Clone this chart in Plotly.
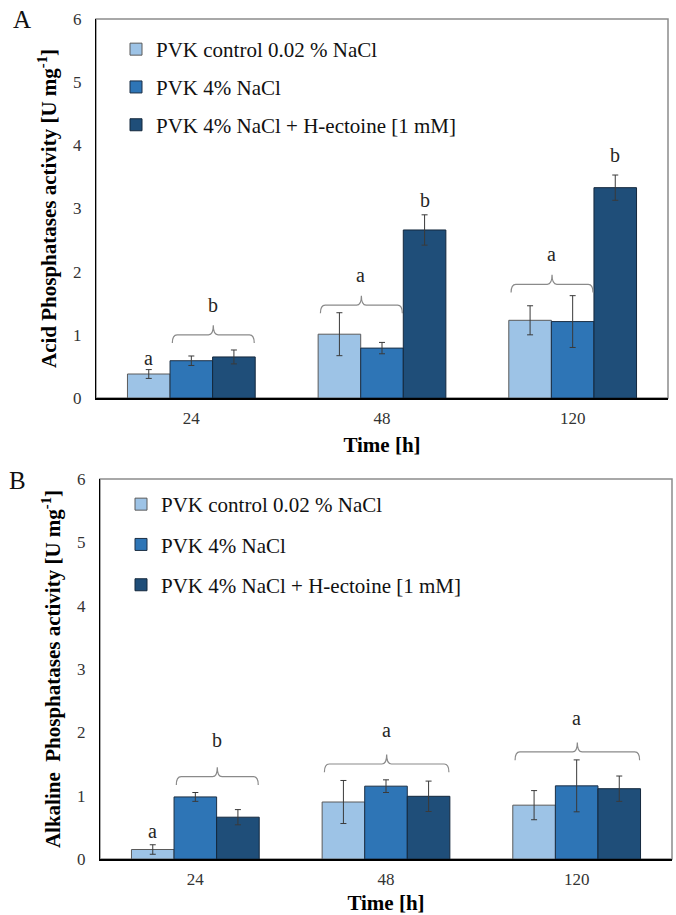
import plotly.graph_objects as go

times = ["24", "48", "120"]
series = ["PVK control 0.02 % NaCl", "PVK 4% NaCl", "PVK 4% NaCl + H-ectoine [1 mM]"]
colors = ["#9DC3E6", "#2E75B6", "#1F4E79"]
outlines = ["#5a5a5a", "#1c2f45", "#14283d"]

# Panel A: acid phosphatases
acid_vals = [[0.38, 1.01, 1.23], [0.59, 0.79, 1.21], [0.65, 2.66, 3.33]]
acid_err = [[0.07, 0.34, 0.23], [0.075, 0.09, 0.41], [0.11, 0.24, 0.20]]
# Panel B: alkaline phosphatases
alk_vals = [[0.15, 0.90, 0.85], [0.98, 1.15, 1.155], [0.66, 0.99, 1.11]]
alk_err = [[0.075, 0.34, 0.23], [0.07, 0.10, 0.41], [0.12, 0.24, 0.20]]

# Significance letters: (group index, series index or None for brace center, letter, y)
acid_letters = [(0, 0, "a", 0.63), (0, None, "b", 1.47), (1, None, "a", 1.95),
                (1, 2, "b", 3.13), (2, None, "a", 2.28), (2, 2, "b", 3.85)]
alk_letters = [(0, 0, "a", 0.45), (0, None, "b", 1.88), (1, None, "a", 2.03),
               (2, None, "a", 2.23)]
# Braces: (group, first series, last series, line level)
acid_braces = [(0, 1, 2, 1.0), (1, 0, 1, 1.47), (2, 0, 1, 1.80)]
alk_braces = [(0, 1, 2, 1.30), (1, 0, 2, 1.50), (2, 0, 2, 1.69)]

BARGAP = 0.33
BW = (1 - BARGAP) / 3
FONT = "Liberation Serif"

fig = go.Figure()

panels = [
    dict(vals=acid_vals, err=acid_err, xa="x", ya="y", legend="legend",
         letters=acid_letters, braces=acid_braces),
    dict(vals=alk_vals, err=alk_err, xa="x2", ya="y2", legend="legend2",
         letters=alk_letters, braces=alk_braces),
]

for p in panels:
    for i in range(3):
        fig.add_trace(go.Bar(
            x=[0, 1, 2], y=p["vals"][i], name=series[i],
            marker=dict(color=colors[i], line=dict(color=outlines[i], width=1)),
            error_y=dict(type="data", array=p["err"][i], color="#3a3a3a",
                         thickness=1, width=3),
            xaxis=p["xa"], yaxis=p["ya"], legend=p["legend"],
            legendgroup=f"{p['legend']}{i}",
        ))


def bar_center(g, s):
    return g + (s - 1) * BW


shapes = []
annotations = []
for p in panels:
    xr, yr = p["xa"], p["ya"]
    for g, s0, s1, lvl in p["braces"]:
        x0 = bar_center(g, s0) - BW / 2 + 0.012
        x1 = bar_center(g, s1) + BW / 2 - 0.005
        xm = (x0 + x1) / 2
        d1, d2, r = 0.13, 0.15, 0.025
        path = (f"M{x0},{lvl - d1} Q{x0},{lvl} {x0 + r},{lvl} "
                f"L{xm - r},{lvl} Q{xm},{lvl} {xm},{lvl + d2} "
                f"Q{xm},{lvl} {xm + r},{lvl} L{x1 - r},{lvl} "
                f"Q{x1},{lvl} {x1},{lvl - d1}")
        shapes.append(dict(type="path", path=path, xref=xr, yref=yr,
                           line=dict(color="#8a8a8a", width=1.2)))
    for g, s, letter, yv in p["letters"]:
        if s is None:
            br = [b for b in p["braces"] if b[0] == g][0]
            xv = (bar_center(g, br[1]) - BW / 2 + bar_center(g, br[2]) + BW / 2) / 2
        else:
            xv = bar_center(g, s)
        annotations.append(dict(x=xv, y=yv, xref=xr, yref=yr, text=letter,
                                showarrow=False,
                                font=dict(family=FONT, size=20, color="#262626")))
    # gray plot-area frame
    shapes.append(dict(type="rect", xref=f"{xr} domain", yref=f"{yr} domain",
                       x0=0, x1=1, y0=0, y1=1,
                       line=dict(color="#8c8c8c", width=1.5), layer="below"))

annotations.append(dict(x=22 / 676, y=1 - 19 / 915, xref="paper", yref="paper",
                        xanchor="center", yanchor="middle",
                        text="A", showarrow=False,
                        font=dict(family=FONT, size=25, color="#111")))
annotations.append(dict(x=17 / 676, y=1 - 480 / 915, xref="paper", yref="paper",
                        xanchor="center", yanchor="middle",
                        text="B", showarrow=False,
                        font=dict(family=FONT, size=25, color="#111")))

xax_common = dict(range=[-0.5, 2.5], tickmode="array", tickvals=[0, 1, 2],
                  ticktext=times, showgrid=False, zeroline=False,
                  showline=True, linecolor="#000", linewidth=1.5,
                  ticks="", ticklabelstandoff=4, automargin=False,
                  tickfont=dict(family=FONT, size=17, color="#333"),
                  title=dict(text="<b>Time [h]</b>", standoff=10,
                             font=dict(family=FONT, size=21, color="#000")),
                  fixedrange=True)
yax_common = dict(range=[0, 6], dtick=1, showgrid=False, zeroline=False,
                  showline=True, linecolor="#000", linewidth=1.2,
                  ticks="", ticklabelstandoff=10, automargin=False,
                  tickfont=dict(family=FONT, size=17, color="#333"),
                  fixedrange=True)

leg_common = dict(font=dict(family=FONT, size=21, color="#111"),
                  bgcolor="rgba(0,0,0,0)",
                  traceorder="grouped", xanchor="left", yanchor="top",
                  itemclick=False, itemdoubleclick=False)

fig.update_layout(
    width=676, height=915, margin=dict(l=0, r=0, t=0, b=0, autoexpand=False),
    paper_bgcolor="white", plot_bgcolor="white",
    barmode="group", bargap=BARGAP, bargroupgap=0,
    showlegend=True,
    xaxis=dict(domain=[96 / 676, 668 / 676], anchor="y", **xax_common),
    yaxis=dict(domain=[1 - 398 / 915, 1 - 19 / 915], anchor="x",
               title=dict(text="<b>Acid Phosphatases activity [U mg<sup>-1</sup>]</b>",
                          standoff=10, font=dict(family=FONT, size=21, color="#000")),
               **yax_common),
    xaxis2=dict(domain=[100 / 676, 672 / 676], anchor="y2", **xax_common),
    yaxis2=dict(domain=[1 - 859 / 915, 1 - 479 / 915], anchor="x2",
                title=dict(text="<b>Alkaline  Phosphatases activity [U mg<sup>-1</sup>]</b>",
                           standoff=10, font=dict(family=FONT, size=21, color="#000")),
                **yax_common),
    legend=dict(x=116 / 676, y=1 - 29 / 915, tracegroupgap=7.5, **leg_common),
    legend2=dict(x=121 / 676, y=1 - 484 / 915, tracegroupgap=10, **leg_common),
    shapes=shapes, annotations=annotations,
)

fig.write_html("out.html", config={"displayModeBar": False},
               post_script="document.body.style.margin='0';document.body.style.padding='0';")
